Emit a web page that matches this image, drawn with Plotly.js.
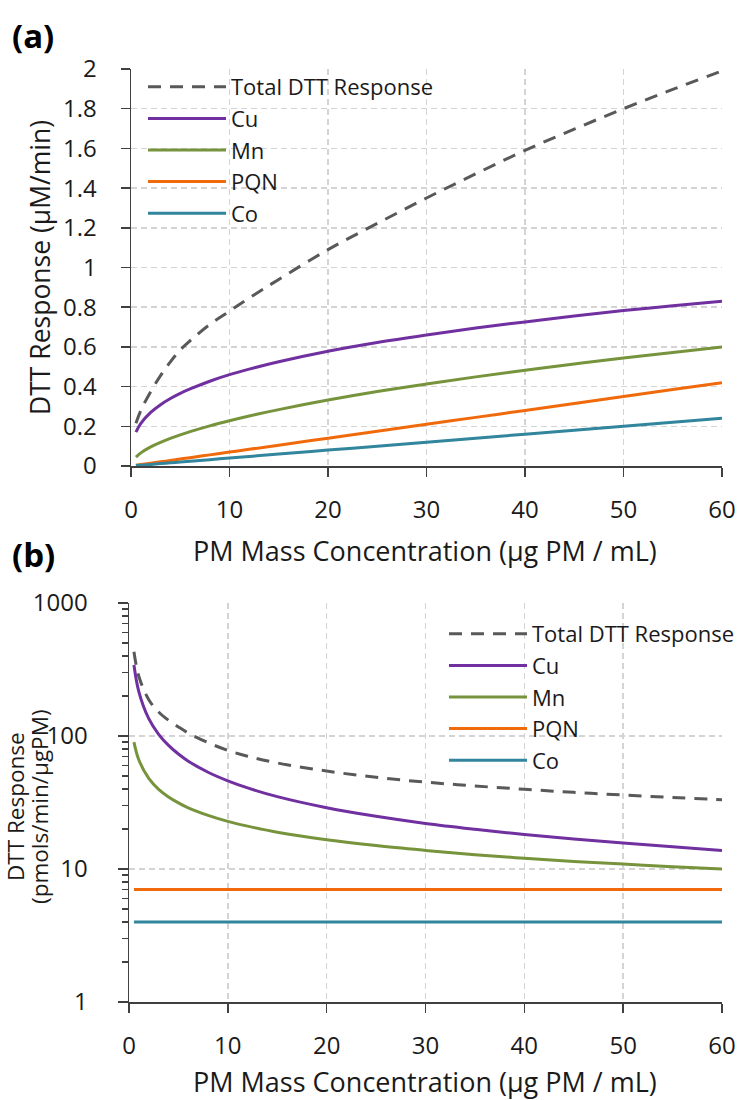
<!DOCTYPE html>
<html><head><meta charset="utf-8">
<script src="https://cdn.plot.ly/plotly-3.0.1.min.js"></script>
<style>html,body{margin:0;padding:0;background:#fff}#chart{width:740px;height:1100px}</style>
</head><body><div id="chart"></div>
<script>
// PM mass concentration (µg PM / mL)
const conc = [0.5, 1, 2, 3, 4, 5, 6, 8, 10, 12, 15, 20, 25, 30, 35, 40, 45, 50, 55, 60];

// (a) DTT response (µM/min)
const totalA = [0.215, 0.28, 0.375, 0.455, 0.525, 0.585, 0.631, 0.713, 0.78, 0.846, 0.94, 1.09, 1.222, 1.35, 1.472, 1.59, 1.697, 1.80, 1.897, 1.99];
const cuA    = [0.171, 0.215, 0.270, 0.309, 0.340, 0.366, 0.388, 0.427, 0.460, 0.488, 0.525, 0.578, 0.622, 0.660, 0.695, 0.726, 0.756, 0.783, 0.807, 0.830];
const mnA    = [0.045, 0.066, 0.096, 0.119, 0.139, 0.157, 0.173, 0.202, 0.228, 0.252, 0.284, 0.332, 0.375, 0.413, 0.449, 0.482, 0.514, 0.544, 0.572, 0.600];
const pqnA   = [0.0035, 0.007, 0.014, 0.021, 0.028, 0.035, 0.042, 0.056, 0.07, 0.084, 0.105, 0.14, 0.175, 0.21, 0.245, 0.28, 0.315, 0.35, 0.385, 0.42];
const coA    = [0.002, 0.004, 0.008, 0.012, 0.016, 0.02, 0.024, 0.032, 0.04, 0.048, 0.06, 0.08, 0.1, 0.12, 0.14, 0.16, 0.18, 0.2, 0.22, 0.24];

// (b) DTT response (pmols/min/µgPM)
const totalB = [430, 280, 187.5, 151.7, 131.3, 117, 105.2, 89.1, 78, 70.5, 62.7, 54.5, 48.9, 45, 42.1, 39.75, 37.7, 36, 34.5, 33.2];
const cuB    = [342, 215, 135, 103, 85, 73.2, 64.7, 53.4, 46.0, 40.7, 35.0, 28.9, 24.9, 22.0, 19.9, 18.2, 16.8, 15.7, 14.7, 13.8];
const mnB    = [90, 66, 48, 39.7, 34.8, 31.4, 28.8, 25.3, 22.8, 21.0, 18.9, 16.6, 15.0, 13.8, 12.8, 12.05, 11.4, 10.9, 10.4, 10.0];
const pqnB   = [7, 7, 7, 7, 7, 7, 7, 7, 7, 7, 7, 7, 7, 7, 7, 7, 7, 7, 7, 7];
const coB    = [4, 4, 4, 4, 4, 4, 4, 4, 4, 4, 4, 4, 4, 4, 4, 4, 4, 4, 4, 4];

const seriesNames = ['Total DTT Response', 'Cu', 'Mn', 'PQN', 'Co'];
const seriesColors = ['#595959', '#7030A0', '#77933C', '#F06A0C', '#31859C'];

const xTickVals = [0, 10, 20, 30, 40, 50, 60];
const yTickValsA = [0, 0.2, 0.4, 0.6, 0.8, 1, 1.2, 1.4, 1.6, 1.8, 2];
const yTickTextA = ['0', '0.2', '0.4', '0.6', '0.8', '1', '1.2', '1.4', '1.6', '1.8', '2'];
const yTickValsB = [1, 10, 100, 1000];
const yTickTextB = ['1', '10', '100', '1000'];

const FONT = 'Open Sans, Noto Sans, sans-serif';
const TXT = '#1a1a1a';

const dataA = [totalA, cuA, mnA, pqnA, coA];
const dataB = [totalB, cuB, mnB, pqnB, coB];
const traces = [];
seriesNames.forEach((n, i) => {
  traces.push({
    x: conc, y: dataA[i], name: n, type: 'scatter', mode: 'lines',
    line: {color: seriesColors[i], width: 3, shape: 'spline', dash: i === 0 ? '13px,9px' : 'solid'},
    xaxis: 'x', yaxis: 'y', legend: 'legend'
  });
});
seriesNames.forEach((n, i) => {
  traces.push({
    x: conc, y: dataB[i], name: n, type: 'scatter', mode: 'lines',
    line: {color: seriesColors[i], width: 3, shape: 'spline', dash: i === 0 ? '13px,9px' : 'solid'},
    xaxis: 'x2', yaxis: 'y2', legend: 'legend2'
  });
});

const axisCommon = {
  showline: true, linecolor: '#404040', linewidth: 1.5,
  ticks: 'outside', ticklen: 9, tickwidth: 1.5, tickcolor: '#404040',
  showgrid: true, gridcolor: '#d4d4d4', gridwidth: 1.5, griddash: '6px,4px',
  zeroline: false, tickfont: {family: FONT, size: 24, color: TXT}
};

const W = 740, H = 1100;
const px = v => v / W, py = v => 1 - v / H;

const layout = {
  width: W, height: H,
  margin: {l: 0, r: 0, t: 0, b: 0},
  paper_bgcolor: '#fff', plot_bgcolor: '#fff',
  font: {family: FONT, color: TXT},
  xaxis: Object.assign({}, axisCommon, {
    domain: [px(131), px(722)], range: [0, 60], tickvals: xTickVals, anchor: 'y',
    ticklabelstandoff: 13
  }),
  yaxis: Object.assign({}, axisCommon, {
    domain: [py(466), py(69)], range: [0, 2], tickvals: yTickValsA, ticktext: yTickTextA, anchor: 'x',
    ticklabelstandoff: 19
  }),
  xaxis2: Object.assign({}, axisCommon, {
    domain: [px(129), px(722)], range: [0, 60], tickvals: xTickVals, anchor: 'y2',
    ticklabelstandoff: 13
  }),
  yaxis2: Object.assign({}, axisCommon, {
    domain: [py(1002), py(603)], type: 'log', range: [0, 3], tickvals: yTickValsB, ticktext: yTickTextB, anchor: 'x2',
    ticklabelstandoff: 25, ticklen: 10,
    minor: {ticks: 'outside', ticklen: 6, tickwidth: 1.5, tickcolor: '#404040', dtick: 'D1', showgrid: false}
  }),
  legend: {
    x: px(143), y: py(66), xanchor: 'left', yanchor: 'top',
    bgcolor: 'rgba(0,0,0,0)', font: {family: FONT, size: 22, color: TXT},
    itemwidth: 78, tracegroupgap: 0, traceorder: 'normal'
  },
  legend2: {
    x: px(444), y: py(613), xanchor: 'left', yanchor: 'top',
    bgcolor: 'rgba(0,0,0,0)', font: {family: FONT, size: 22, color: TXT},
    itemwidth: 78, tracegroupgap: 0, traceorder: 'normal'
  },
  annotations: [
    {text: '<b>(a)</b>', xref: 'paper', yref: 'paper', x: px(33), y: py(35), xanchor: 'center', yanchor: 'middle', showarrow: false, font: {family: FONT, size: 33, color: '#000'}},
    {text: '<b>(b)</b>', xref: 'paper', yref: 'paper', x: px(33), y: py(554), xanchor: 'center', yanchor: 'middle', showarrow: false, font: {family: FONT, size: 33, color: '#000'}},
    {text: 'DTT Response (µM/min)', xref: 'paper', yref: 'paper', x: px(40), y: py(268), xanchor: 'center', yanchor: 'middle', textangle: -90, showarrow: false, font: {family: FONT, size: 26.5, color: TXT}},
    {text: 'DTT Response', xref: 'paper', yref: 'paper', x: px(15), y: py(807), xanchor: 'center', yanchor: 'middle', textangle: -90, showarrow: false, font: {family: FONT, size: 22.5, color: TXT}},
    {text: '(pmols/min/µgPM)', xref: 'paper', yref: 'paper', x: px(39), y: py(807), xanchor: 'center', yanchor: 'middle', textangle: -90, showarrow: false, font: {family: FONT, size: 22.5, color: TXT}},
    {text: 'PM Mass Concentration (µg PM / mL)', xref: 'paper', yref: 'paper', x: px(425), y: py(550), xanchor: 'center', yanchor: 'middle', showarrow: false, font: {family: FONT, size: 27, color: TXT}},
    {text: 'PM Mass Concentration (µg PM / mL)', xref: 'paper', yref: 'paper', x: px(425), y: py(1081), xanchor: 'center', yanchor: 'middle', showarrow: false, font: {family: FONT, size: 27, color: TXT}}
  ]
};

Plotly.newPlot('chart', traces, layout, {displayModeBar: false, staticPlot: true});
</script>
</body></html>
